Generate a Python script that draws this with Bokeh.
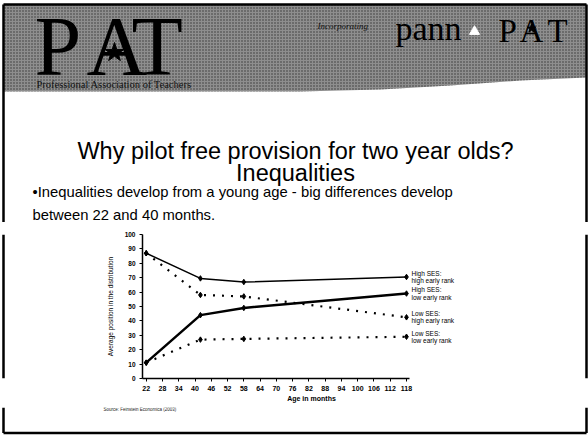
from bokeh.plotting import figure
from bokeh.layouts import column, row
from bokeh.models import Range1d, FixedTicker, ColumnDataSource
from bokeh.core.properties import value
from bokeh.embed import file_html
from bokeh.resources import INLINE

# ---------------- data ----------------
ages = [22, 42, 58, 118]
high_ses_high_rank = [87, 69.5, 67, 70.5]
high_ses_low_rank = [11, 44, 49, 59]
low_ses_high_rank = [87, 58, 57, 42.5]
low_ses_low_rank = [11, 27, 27.5, 29]
series_labels = ["High SES:\nhigh early rank", "High SES:\nlow early rank",
                 "Low SES:\nhigh early rank", "Low SES:\nlow early rank"]
x_ticks = list(range(22, 119, 6))
y_ticks = list(range(0, 101, 10))

title_line1 = "Why pilot free provision for two year olds?"
title_line2 = "Inequalities"
body_line1 = "\u2022Inequalities develop from a young age - big differences develop"
body_line2 = "between 22 and 40 months."
source_text = "Source: Feinstein Economica (2003)"

# slide geometry (pixel space 588 x 437)
header_x = [3, 586, 586, 520, 450, 380, 300, 3]
header_y = [4, 4, 77, 80, 85, 89, 91, 91]

W, H = 588, 437
TOP_H, CHART_H = 222, 185
BOT_H = H - TOP_H - CHART_H
STRIP = 10

def deco(width, height, xr, yr):
    f = figure(width=width, height=height, x_range=Range1d(*xr), y_range=Range1d(*yr),
               x_axis_location=None, y_axis_location=None, toolbar_location=None,
               output_backend="svg", min_border=0)
    f.xgrid.visible = False
    f.ygrid.visible = False
    f.outline_line_color = None
    f.background_fill_color = "white"
    f.border_fill_color = "white"
    return f

SANS = value("Liberation Sans")
SERIF = value("Liberation Serif")

# ---------------- top part ----------------
top = deco(W, TOP_H, (0, W), (TOP_H, 0))
top.patch(header_x, header_y, fill_color="#8e8e8e", line_color=None,
          hatch_pattern="dot", hatch_color="#222222", hatch_scale=3, hatch_alpha=0.8)
top.segment(x0=[3, 586, 3], y0=[4, 4, 4], x1=[586, 586, 3], y1=[4, TOP_H, TOP_H],
            line_color="black", line_width=2.5)
top.text(x=[34, 86, 131], y=[46, 46, 46], text=["P", "A", "T"], text_font=SERIF,
         text_font_size="84px", text_color="black", text_baseline="middle")
top.scatter(x=[114], y=[52], marker="star", size=20, color="black")
top.text(x=[36], y=[84], text=["Professional Association of Teachers"], text_font=SERIF,
         text_font_size="10.5px", text_color="#111111", text_baseline="middle")
top.text(x=[317], y=[25], text=["Incorporating"], text_font=SERIF, text_font_style="italic",
         text_font_size="9px", text_color="#111111", text_baseline="middle")
top.text(x=[395], y=[28], text=["pann"], text_font=SERIF, text_font_size="34px",
         text_color="black", text_baseline="middle")
top.scatter(x=[474], y=[31], marker="triangle", size=10, color="white")
top.text(x=[498, 519, 547], y=[30, 30, 30], text=["P", "A", "T"], text_font=SERIF,
         text_font_size="33px", text_color="black", text_baseline="middle")
top.scatter(x=[531], y=[28], marker="star", size=9, color="black")
top.text(x=[295], y=[150], text=[title_line1], text_font=SANS, text_font_size="23.5px",
         text_color="black", text_align="center", text_baseline="middle")
top.text(x=[295], y=[172], text=[title_line2], text_font=SANS, text_font_size="23.5px",
         text_color="black", text_align="center", text_baseline="middle")
top.text(x=[32], y=[191], text=[body_line1], text_font=SANS, text_font_size="14.8px",
         text_color="black", text_baseline="middle")
top.text(x=[32], y=[214], text=[body_line2], text_font=SANS, text_font_size="14.8px",
         text_color="black", text_baseline="middle")

# ---------------- chart ----------------
CHART_W = W - 2 * STRIP
p = figure(width=CHART_W, height=CHART_H, x_range=Range1d(20.63, 145.3), y_range=Range1d(0, 100),
           toolbar_location=None, output_backend="svg",
           min_border_left=132, min_border_right=98, min_border_top=12, min_border_bottom=29)
p.grid.visible = False
p.outline_line_color = None
p.background_fill_color = "white"
p.border_fill_color = "white"

for ax in (p.xaxis[0], p.yaxis[0]):
    ax.axis_line_color = "black"
    ax.axis_line_width = 1.5
    ax.major_tick_line_color = "black"
    ax.major_tick_in = 0
    ax.major_tick_out = 3
    ax.minor_tick_line_color = None
    ax.major_label_text_font = "Liberation Sans"
    ax.major_label_text_font_style = "bold"
    ax.major_label_text_color = "black"
    ax.axis_label_text_font = "Liberation Sans"
    ax.axis_label_text_color = "black"

p.xaxis.ticker = FixedTicker(ticks=x_ticks)
p.xaxis.bounds = (20.63, 119)
p.xaxis.major_label_text_font_size = "7px"
p.xaxis.major_label_standoff = 4
p.xaxis.axis_label = "Age in months"
p.xaxis.axis_label_text_font_size = "7px"
p.xaxis.axis_label_text_font_style = "bold"
p.xaxis.axis_label_standoff = 1

p.yaxis.ticker = FixedTicker(ticks=y_ticks)
p.yaxis.bounds = (0, 100)
p.yaxis.major_label_text_font_size = "6.5px"
p.yaxis.major_label_standoff = 4
p.yaxis.axis_label = "Average position in the distribution"
p.yaxis.axis_label_text_font_size = "6.5px"
p.yaxis.axis_label_text_font_style = "normal"
p.yaxis.axis_label_standoff = 8

series = [high_ses_high_rank, high_ses_low_rank, low_ses_high_rank, low_ses_low_rank]
widths = [1.5, 2.5, 2.2, 2.2]
dashes = ["solid", "solid", "2 7", "2 7"]
for vals, w, d in zip(series, widths, dashes):
    p.line(ages, vals, line_color="black", line_width=w, line_dash=d)
    p.scatter(ages, vals, marker="diamond", size=5.5, color="black")

end_src = ColumnDataSource(dict(x=[ages[-1]] * 4, y=[s[-1] for s in series], t=series_labels))
p.text(x="x", y="y", text="t", source=end_src, x_offset=5, text_font=SANS,
       text_font_size="6.5px", text_color="black", text_baseline="middle",
       text_line_height=1.05)

# side strips for the slide border
y0c, y1c = TOP_H, TOP_H + CHART_H
left = deco(STRIP, CHART_H, (0, STRIP), (y1c, y0c))
left.segment(x0=[3], y0=[y0c], x1=[3], y1=[y1c], line_color="black", line_width=2.5)
right = deco(STRIP, CHART_H, (W - STRIP, W), (y1c, y0c))
right.segment(x0=[586], y0=[y0c], x1=[586], y1=[y1c], line_color="black", line_width=2.5)

# ---------------- bottom ----------------
bot = deco(W, BOT_H, (0, W), (H, y1c))
bot.segment(x0=[3, 586, 3], y0=[y1c, y1c, 432.5], x1=[3, 586, 586], y1=[432.5, 432.5, 432.5],
            line_color="black", line_width=2.5)
bot.text(x=[103], y=[409], text=[source_text], text_font=SANS, text_font_size="4.5px",
         text_color="#222222", text_baseline="middle")

layout = column(top, row(left, p, right, spacing=0), bot, spacing=0)

open("out.html", "w").write(file_html(layout, INLINE))
